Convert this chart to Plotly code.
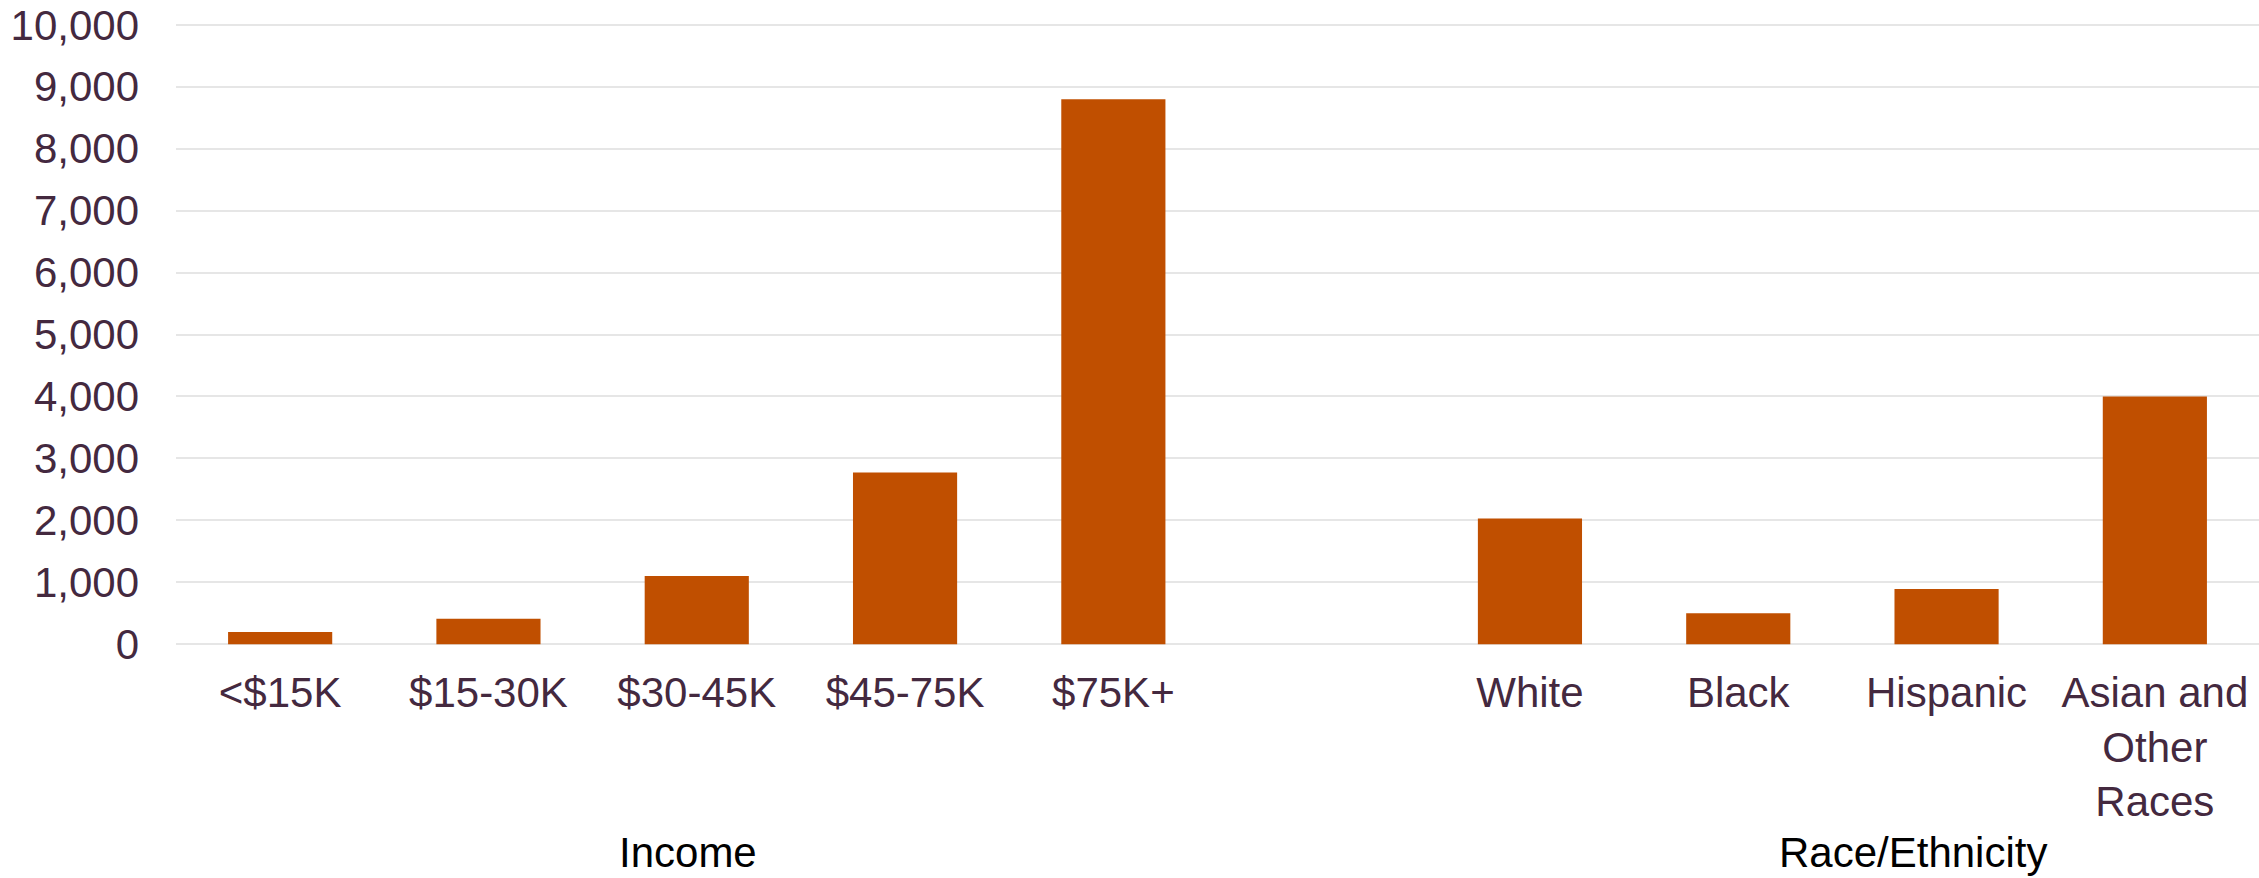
import plotly.graph_objects as go

# Category labels (one empty slot separates the two groups)
categories = ["<$15K", "$15-30K", "$30-45K", "$45-75K", "$75K+", "",
              "White", "Black", "Hispanic", "Asian and<br>Other<br>Races"]
values = [195, 410, 1100, 2770, 8800, None, 2030, 500, 890, 4000]

group_labels = ["Income", "Race/Ethnicity"]
group_label_x = [1.96, 7.84]

y_ticks = [0, 1000, 2000, 3000, 4000, 5000, 6000, 7000, 8000, 9000, 10000]

BAR = "#C04F00"
TEXT = "#44293F"
GRID = "#E6E6E6"
FONT = "Liberation Sans, Arial, sans-serif"

x_pos = list(range(len(categories)))

fig = go.Figure(go.Bar(
    x=x_pos,
    y=values,
    marker=dict(color=BAR, line=dict(width=0)),
    width=0.5,
    hoverinfo="skip",
))

for label, gx in zip(group_labels, group_label_x):
    fig.add_annotation(
        x=gx, xref="x", y=-0.331, yref="paper",
        text=label, showarrow=False, borderpad=0,
        font=dict(family=FONT, size=42, color="#000000"),
        xanchor="center", yanchor="middle",
    )

fig.update_layout(
    width=2259, height=878,
    margin=dict(l=176, r=0, t=23, b=232),
    paper_bgcolor="white", plot_bgcolor="white",
    showlegend=False,
    font=dict(family=FONT, size=42, color=TEXT),
    xaxis=dict(
        tickmode="array", tickvals=x_pos, ticktext=categories,
        range=[-0.5, len(categories) - 0.5],
        showgrid=False, zeroline=False, showline=False, ticks="",
        ticklabelstandoff=18,
        tickfont=dict(family=FONT, size=42, color=TEXT),
    ),
    yaxis=dict(
        range=[-30, 10030], tickmode="array", tickvals=y_ticks,
        tickformat=",d",
        showgrid=True, gridcolor=GRID, gridwidth=2,
        zeroline=False, showline=False, ticks="",
        ticklabelstandoff=36,
        tickfont=dict(family=FONT, size=42, color=TEXT),
    ),
)

fig.write_html("out.html")
